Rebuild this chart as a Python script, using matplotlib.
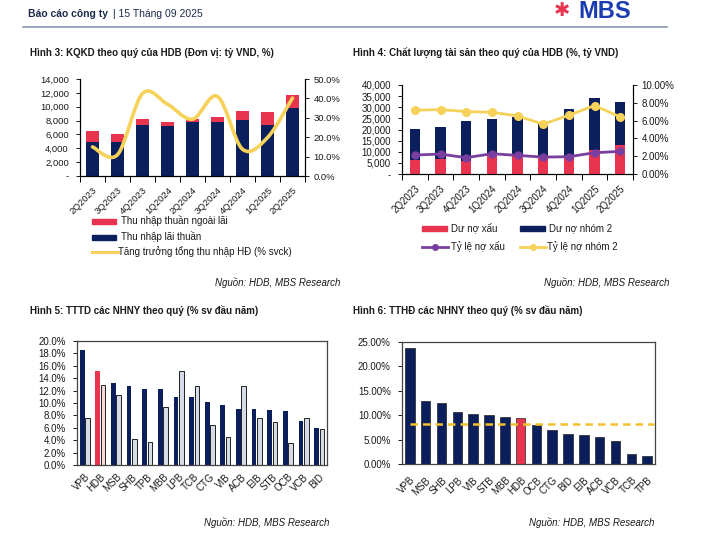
import matplotlib
matplotlib.use('Agg')
import matplotlib.pyplot as plt
import numpy as np
from matplotlib.path import Path
from matplotlib.patches import PathPatch, Rectangle
from matplotlib.lines import Line2D
from matplotlib.ticker import FuncFormatter, MultipleLocator, FixedLocator

plt.rcParams['font.family'] = ['Liberation Sans', 'DejaVu Sans']

# ---- du lieu ----
quy = ['2Q2023', '3Q2023', '4Q2023', '1Q2024', '2Q2024', '3Q2024', '4Q2024', '1Q2025', '2Q2025']

# Hinh 3
thu_nhap_lai = [4900, 4900, 7400, 7150, 7750, 7750, 8150, 7300, 9800]
thu_nhap_ngoai_lai = [1550, 1150, 830, 650, 480, 750, 1280, 1930, 1830]
tang_truong_toi = [15.0, 11.0, 42.5, 37.0, 29.3, 41.0, 13.8, 19.8, 40.2]

# Hinh 4
du_no_xau = [6400, 6700, 6000, 8700, 8400, 7200, 7600, 10900, 13000]
du_no_nhom2 = [20300, 21000, 23900, 24900, 25400, 22500, 29300, 34300, 32500]
ty_le_no_xau = [2.13, 2.24, 1.83, 2.28, 2.09, 1.90, 1.94, 2.39, 2.54]
ty_le_nhom2 = [7.16, 7.24, 7.01, 6.94, 6.53, 5.60, 6.60, 7.69, 6.42]

# Hinh 5
ngan_hang_5 = ['VPB', 'HDB', 'MSB', 'SHB', 'TPB', 'MBB', 'LPB', 'TCB',
               'CTG', 'VIB', 'ACB', 'EIB', 'STB', 'OCB', 'VCB', 'BID']
tttd_nay = [18.5, 15.2, 13.3, 12.7, 12.2, 12.2, 11.0, 11.0, 10.1, 9.7, 9.0, 9.0, 8.85, 8.7, 7.1, 5.9]
tttd_truoc = [7.6, 12.9, 11.3, 4.2, 3.7, 9.3, 15.1, 12.8, 6.5, 4.5, 12.7, 7.6, 6.9, 3.6, 7.6, 5.8]

# Hinh 6
ngan_hang_6 = ['VPB', 'MSB', 'SHB', 'LPB', 'VIB', 'STB', 'MBB', 'HDB',
               'OCB', 'CTG', 'BID', 'EIB', 'ACB', 'VCB', 'TCB', 'TPB']
tthd = [23.8, 12.9, 12.4, 10.6, 10.2, 10.1, 9.7, 9.4, 7.9, 7.05, 6.2, 5.95, 5.55, 4.65, 2.1, 1.6]
tthd_tb = 8.2

NAVY = '#0b1f5c'
RED = '#e8344e'
YEL = '#f6d25a'
PURP = '#7a3ea0'
LIGHT = '#d5dce8'
PINK = '#f7d9d6'
TXT = '#1a1a1a'

W, H = 703, 548
fig = plt.figure(figsize=(W / 100, H / 100), dpi=100)


def box(l, t, r, b):
    return fig.add_axes([l / W, 1 - b / H, (r - l) / W, (b - t) / H])


def ftext(x, y, s, **kw):
    kw.setdefault('va', 'center')
    kw.setdefault('color', TXT)
    fig.text(x / W, 1 - y / H, s, **kw)


def k_fmt(v, pos):
    return '-' if v == 0 else f'{v:,.0f}'


# ---- header ----
ftext(28, 14, 'Báo cáo công ty', fontsize=7.5, fontweight='bold', color='#1c2b4b')
ftext(113, 14, '| 15 Tháng 09 2025', fontsize=7.5, color='#1c2b4b')
fig.add_artist(Line2D([23 / W, 667 / W], [1 - 27 / H, 1 - 27 / H], color='#8a9ab0', lw=1.2))
ftext(562, 10, '✱', fontsize=14, color=RED, ha='center', family=['DejaVu Sans'])
fig.text(578 / W, 1 - 18 / H, 'MBS', fontsize=17, fontweight='bold', color='#1b3cb0', va='baseline')

# ---- Hinh 3 ----
ftext(30, 53, 'Hình 3: KQKD theo quý của HDB (Đơn vị: tỷ VND, %)', fontsize=7, fontweight='bold')
ax = box(80, 79, 305, 176)
x = np.arange(len(quy))
ax.bar(x, thu_nhap_lai, width=0.5, color=NAVY, zorder=2)
ax.bar(x, thu_nhap_ngoai_lai, width=0.5, bottom=thu_nhap_lai, color=RED, zorder=2)
ax.set_xlim(-0.5, len(quy) - 0.5)
ax.set_ylim(0, 14000)
ax.yaxis.set_major_locator(MultipleLocator(2000))
ax.yaxis.set_major_formatter(FuncFormatter(k_fmt))
ax.set_xticks(x)
ax.set_xticklabels(quy, rotation=45, ha='right', rotation_mode='anchor')
ax.xaxis.set_minor_locator(FixedLocator(np.arange(len(quy) + 1) - 0.5))
ax.tick_params(axis='x', which='major', length=0, pad=7)
ax.tick_params(axis='x', which='minor', length=4, width=0.7)
ax.tick_params(axis='y', length=3, width=0.7, pad=5)
ax.tick_params(labelsize=6.8, colors=TXT)
ax.spines['top'].set_visible(False)

ax2 = ax.twinx()
ax2.set_ylim(0, 50)
ax2.yaxis.set_major_locator(MultipleLocator(10))
ax2.yaxis.set_major_formatter(FuncFormatter(lambda v, p: f'{v:.1f}%'))
ax2.tick_params(axis='y', length=3, width=0.7, pad=3, labelsize=6.8, colors=TXT)
ax2.spines['top'].set_visible(False)
# duong cong muot kieu Excel qua cac diem du lieu
px = np.array(x, dtype=float)
py = np.array(tang_truong_toi, dtype=float)
verts = [(px[0], py[0])]
codes = [Path.MOVETO]
n = len(px)
for i in range(n - 1):
    p0 = (px[max(i - 1, 0)], py[max(i - 1, 0)])
    p1 = (px[i], py[i])
    p2 = (px[i + 1], py[i + 1])
    p3 = (px[min(i + 2, n - 1)], py[min(i + 2, n - 1)])
    c1 = (p1[0] + (p2[0] - p0[0]) / 6, p1[1] + (p2[1] - p0[1]) / 6)
    c2 = (p2[0] - (p3[0] - p1[0]) / 6, p2[1] - (p3[1] - p1[1]) / 6)
    verts += [c1, c2, p2]
    codes += [Path.CURVE4] * 3
ax2.add_patch(PathPatch(Path(verts, codes), fill=False, edgecolor=YEL, lw=2.6, capstyle='round'))

# legend hinh 3
fig.add_artist(Rectangle((92 / W, 1 - 223.5 / H), 24 / W, 5 / H, color=RED))
ftext(121, 221, 'Thu nhập thuần ngoài lãi', fontsize=7)
fig.add_artist(Rectangle((92 / W, 1 - 239.5 / H), 24 / W, 5 / H, color=NAVY))
ftext(121, 237, 'Thu nhập lãi thuần', fontsize=7)
fig.add_artist(Line2D([92 / W, 118 / W], [1 - 252 / H] * 2, color=YEL, lw=2.2))
ftext(118, 252, 'Tăng trưởng tổng thu nhập HĐ (% svck)', fontsize=7)
ftext(340, 282, 'Nguồn: HDB, MBS Research', fontsize=7, style='italic', ha='right')

# ---- Hinh 4 ----
ftext(353, 53, 'Hình 4: Chất lượng tài sản theo quý của HDB (%, tỷ VND)', fontsize=7, fontweight='bold')
ax = box(402, 85, 633, 174)
ax.bar(x, du_no_nhom2, width=0.4, color=NAVY, zorder=2)
ax.bar(x, du_no_xau, width=0.4, color=RED, zorder=3)
ax.set_xlim(-0.5, len(quy) - 0.5)
ax.set_ylim(0, 40000)
ax.yaxis.set_major_locator(MultipleLocator(5000))
ax.yaxis.set_major_formatter(FuncFormatter(k_fmt))
ax.set_xticks(x)
ax.set_xticklabels(quy, rotation=45, ha='right', rotation_mode='anchor')
ax.xaxis.set_minor_locator(FixedLocator(np.arange(len(quy) + 1) - 0.5))
ax.tick_params(axis='x', which='major', length=0, pad=7)
ax.tick_params(axis='x', which='minor', length=4, width=0.7)
ax.tick_params(axis='y', length=3, width=0.7, pad=5)
ax.tick_params(labelsize=7, colors=TXT)
ax.spines['top'].set_visible(False)

ax2 = ax.twinx()
ax2.set_ylim(0, 10)
ax2.yaxis.set_major_locator(MultipleLocator(2))
ax2.yaxis.set_major_formatter(FuncFormatter(lambda v, p: f'{v:.2f}%'))
ax2.tick_params(axis='y', length=3, width=0.7, pad=3, labelsize=7, colors=TXT)
ax2.spines['top'].set_visible(False)
ax2.plot(x, ty_le_nhom2, color=YEL, lw=2, marker='o', ms=5.5)
ax2.plot(x, ty_le_no_xau, color=PURP, lw=2, marker='o', ms=5)

fig.add_artist(Rectangle((422 / W, 1 - 230.5 / H), 25 / W, 5 / H, color=RED))
ftext(451, 228, 'Dư nợ xấu', fontsize=7)
fig.add_artist(Rectangle((520 / W, 1 - 230.5 / H), 25 / W, 5 / H, color=NAVY))
ftext(549, 228, 'Dư nợ nhóm 2', fontsize=7)
fig.add_artist(Line2D([422 / W, 435 / W, 448 / W], [1 - 247 / H] * 3, color=PURP, lw=2,
                      marker='o', ms=4, markevery=[1]))
ftext(451, 247, 'Tỷ lệ nợ xấu', fontsize=7)
fig.add_artist(Line2D([520 / W, 533 / W, 546 / W], [1 - 247 / H] * 3, color=YEL, lw=2,
                      marker='o', ms=4, markevery=[1]))
ftext(547, 247, 'Tỷ lệ nợ nhóm 2', fontsize=7)
ftext(669, 283, 'Nguồn: HDB, MBS Research', fontsize=7, style='italic', ha='right')

# ---- Hinh 5 ----
ftext(30, 310, 'Hình 5: TTTD các NHNY theo quý (% sv đầu năm)', fontsize=7, fontweight='bold')
ax = box(77, 341, 327, 465)
x5 = np.arange(len(ngan_hang_5))
c_nay = [RED if b == 'HDB' else NAVY for b in ngan_hang_5]
c_truoc = [PINK if b == 'HDB' else LIGHT for b in ngan_hang_5]
ax.bar(x5 - 0.17, tttd_nay, width=0.3, color=c_nay, zorder=2)
ax.bar(x5 + 0.17, tttd_truoc, width=0.3, color=c_truoc, edgecolor='black', lw=0.6, zorder=2)
ax.set_xlim(-0.5, len(x5) - 0.5)
ax.set_ylim(0, 20)
ax.yaxis.set_major_locator(MultipleLocator(2))
ax.yaxis.set_major_formatter(FuncFormatter(lambda v, p: f'{v:.1f}%'))
ax.set_xticks(x5)
ax.set_xticklabels(ngan_hang_5, rotation=45, ha='right', rotation_mode='anchor')
ax.tick_params(axis='x', length=0, pad=5)
ax.tick_params(axis='y', length=3, width=0.7, pad=5)
ax.tick_params(labelsize=7, colors=TXT)
for s in ax.spines.values():
    s.set_color('#444444')
    s.set_linewidth(0.9)
ftext(329, 522, 'Nguồn: HDB, MBS Research', fontsize=7, style='italic', ha='right')

# ---- Hinh 6 ----
ftext(353, 310, 'Hình 6: TTHĐ các NHNY theo quý (% sv đầu năm)', fontsize=7, fontweight='bold')
ax = box(402, 342, 655, 464)
x6 = np.arange(len(ngan_hang_6))
c6 = [RED if b == 'HDB' else NAVY for b in ngan_hang_6]
ax.bar(x6, tthd, width=0.6, color=c6, edgecolor='#222222', lw=0.5, zorder=2)
ax.axhline(tthd_tb, xmin=0.03, xmax=0.995, color='#f2c230', lw=1.8, dashes=(3, 2), zorder=3)
ax.set_xlim(-0.5, len(x6) - 0.5)
ax.set_ylim(0, 25)
ax.yaxis.set_major_locator(MultipleLocator(5))
ax.yaxis.set_major_formatter(FuncFormatter(lambda v, p: f'{v:.2f}%'))
ax.set_xticks(x6)
ax.set_xticklabels(ngan_hang_6, rotation=45, ha='right', rotation_mode='anchor')
ax.tick_params(axis='x', length=0, pad=8)
ax.tick_params(axis='y', length=3, width=0.7, pad=5)
ax.tick_params(labelsize=7, colors=TXT)
for s in ax.spines.values():
    s.set_color('#444444')
    s.set_linewidth(0.9)
ftext(654, 522, 'Nguồn: HDB, MBS Research', fontsize=7, style='italic', ha='right')

fig.savefig('out.png', dpi=100)
plt.close(fig)
